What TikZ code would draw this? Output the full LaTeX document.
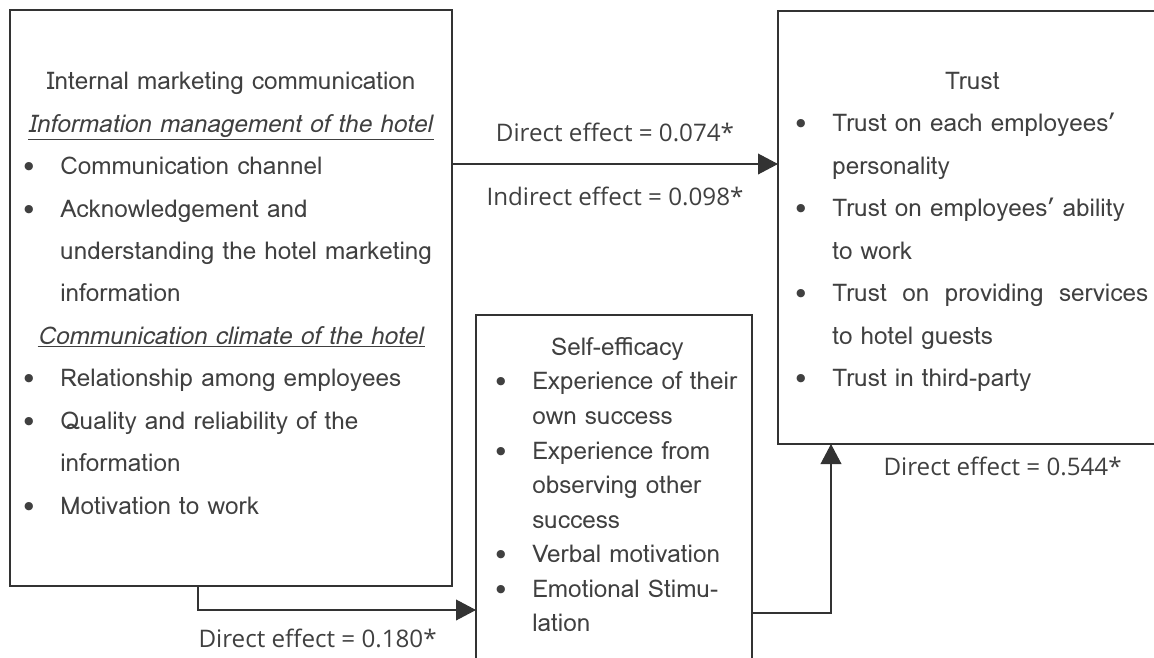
\documentclass[tikz,border=0pt]{standalone}
\usepackage{fontspec}
\setmainfont{Loma}
\newfontfamily\lblfont{Open Sans}
\usepackage{tikz}
\usetikzlibrary{arrows.meta,calc,positioning}

\newcommand{\bitem}{\makebox[0.925cm][l]{\textbullet}}
\newcommand{\bcont}{\hspace*{0.925cm}}
\newcommand{\bhead}[1]{\makebox[\linewidth]{#1}}

\tikzset{
  box/.style={draw=black!80, line width=0.8pt, inner sep=0pt, outer sep=0pt},
  boxtext/.style={align=left, inner sep=0pt, text=black!75, font=\fontsize{17.3}{30.2}\selectfont},
  effect/.style={inner sep=0pt, text=black!75, font=\lblfont\fontsize{17.2}{22}\selectfont},
  arr/.style={-{Triangle[length=0.5cm,width=0.52cm]}, draw=black!80, line width=0.8pt},
}

\begin{document}
\begin{tikzpicture}

\coordinate(O1) at (0,0);
\useasboundingbox (O1) rectangle ++(28.85,-16.45);

\node[below right=0.25cm and 0.25cm of O1, box, minimum width=11.05cm, minimum height=14.4cm](imc) {};
\node[below right=0.275cm and 19.45cm of O1, box, minimum width=10cm, minimum height=10.825cm](trust) {};
\node[below right=7.875cm and 11.9cm of O1, box, minimum width=6.9cm, minimum height=10cm](se) {};

\node[below right=1.8cm and 0.575cm of O1, boxtext, text width=10.4cm](imctext) {%
\bhead{Internal marketing communication}\\
\bhead{\underline{\textit{Information management of the hotel}}}\\
\bitem Communication channel\\
\bitem Acknowledgement and\\
\bcont understanding the hotel marketing\\
\bcont information\\
\bhead{\underline{\textit{Communication climate of the hotel}}}\\
\bitem Relationship among employees\\
\bitem Quality and reliability of the\\
\bcont information\\
\bitem Motivation to work};

\node[below right=1.8cm and 19.875cm of O1, boxtext, text width=8.85cm](trusttext) {%
\bhead{Trust}\\
\bitem Trust on each employees’\\
\bcont personality\\
\bitem Trust on employees’ ability\\
\bcont to work\\
\bitem \makebox[7.9cm][l]{Trust\hfill on\hfill providing\hfill services}\\
\bcont to hotel guests\\
\bitem Trust in third-party};

\node[below right=8.425cm and 12.375cm of O1, boxtext, text width=6.1cm, font=\fontsize{17.3}{24.6}\selectfont](setext) {%
\bhead{Self-efficacy}\\
\bitem Experience of their\\
\bcont own success\\
\bitem Experience from\\
\bcont observing other\\
\bcont success\\
\bitem Verbal motivation\\
\bitem Emotional Stimu-\\
\bcont lation};

\coordinate (d1) at ($(imc.north east)+(0,-3.85)$);
\coordinate (d2) at ($(imc.south west)+(4.7,0)$);
\coordinate (d3) at ($(se.north east)+(0,-7.45)$);
\coordinate (d4) at ($(se.north west)+(0,-7.375)$);
\coordinate (d5) at ($(trust.south west)+(1.325,0)$);

\draw[arr] (d1) -- node[effect, above=0.55cm] {Direct effect = 0.074*} node[effect, below=0.55cm] {Indirect effect = 0.098*} (d1 -| trust.west);
\draw[arr] (d2) |- node[effect, pos=0.5, below right=0.45cm and 0cm] {Direct effect = 0.180*} (d4);
\draw[arr] (d3) -| node[effect, pos=1, below right=0.3cm and 1.3cm] {Direct effect = 0.544*} (d5);
\end{tikzpicture}
\end{document}
